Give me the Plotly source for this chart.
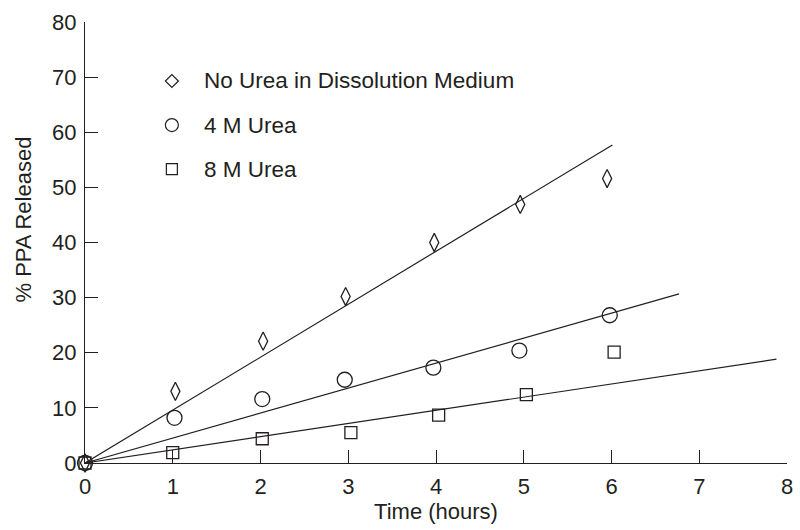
import plotly.graph_objects as go

# Release of PPA over time under three dissolution conditions
no_urea_x = [0, 1.03, 2.03, 2.97, 3.98, 4.96, 5.95]
no_urea_y = [0, 13.0, 22.1, 30.2, 40.0, 46.9, 51.6]
urea4_x = [0, 1.02, 2.02, 2.96, 3.97, 4.95, 5.98]
urea4_y = [0, 8.2, 11.6, 15.1, 17.3, 20.4, 26.8]
urea8_x = [0, 1.0, 2.02, 3.03, 4.03, 5.03, 6.03]
urea8_y = [0, 1.9, 4.4, 5.5, 8.7, 12.4, 20.1]

series_names = ["No Urea in Dissolution Medium", "4 M Urea", "8 M Urea"]
# zero-intercept linear fits: slope (% per hour) and the time where each line stops
fit_slopes = [9.6, 4.53, 2.39]
fit_end_times = [6.01, 6.77, 7.88]

x_ticks = [0, 1, 2, 3, 4, 5, 6, 7, 8]
y_ticks = [0, 10, 20, 30, 40, 50, 60, 70, 80]

INK = "#231f20"
FONT = "Liberation Sans, Arial, sans-serif"

fig = go.Figure()

for slope, t_end in zip(fit_slopes, fit_end_times):
    fig.add_trace(go.Scatter(
        x=[0, t_end], y=[0, slope * t_end], mode="lines",
        line=dict(color=INK, width=1.2), showlegend=False, hoverinfo="skip",
        cliponaxis=False))

marker_styles = [
    ("diamond-tall-open", 13),
    ("circle-open", 15),
    ("square-open", 12),
]
for (xs, ys), name, (sym, size) in zip(
        [(no_urea_x, no_urea_y), (urea4_x, urea4_y), (urea8_x, urea8_y)],
        series_names, marker_styles):
    fig.add_trace(go.Scatter(
        x=xs, y=ys, mode="markers", name=name, cliponaxis=False,
        marker=dict(symbol=sym, size=size, color=INK,
                    line=dict(color=INK, width=1.3)),
        showlegend=False))

# In-plot key: symbol plus label, stacked
legend_y = [69.3, 61.3, 53.3]
legend_symbols = ["diamond-open", "circle-open", "square-open"]
legend_sizes = [10, 13, 11]
for ly, name, sym, lsize in zip(legend_y, series_names, legend_symbols, legend_sizes):
    fig.add_trace(go.Scatter(
        x=[0.99], y=[ly], mode="markers", cliponaxis=False, showlegend=False,
        hoverinfo="skip",
        marker=dict(symbol=sym, size=lsize, color=INK,
                    line=dict(color=INK, width=1.2))))
    fig.add_annotation(x=1.33, y=ly, text=name, showarrow=False,
                       xanchor="left", yanchor="middle",
                       font=dict(size=22.5, color=INK, family=FONT))

# y-axis title, placed a little above the axis midpoint
fig.add_annotation(x=-0.089, y=0.551, xref="paper", yref="paper",
                   text="% PPA Released", textangle=-90, showarrow=False,
                   xanchor="center", yanchor="middle",
                   font=dict(size=22, color=INK, family=FONT))

axis_common = dict(
    showline=True, linecolor=INK, linewidth=1.2,
    ticks="inside", ticklen=13, tickwidth=1.2, tickcolor=INK,
    showgrid=False, zeroline=False,
    tickfont=dict(size=22, color=INK, family=FONT),
    title_font=dict(size=22, color=INK, family=FONT),
)

fig.update_layout(
    width=800, height=530,
    margin=dict(l=85, r=7, t=22, b=67),
    paper_bgcolor="white", plot_bgcolor="white",
    xaxis=dict(range=[0, 8], tickvals=x_ticks, title=dict(text="Time (hours)", standoff=6),
               ticklabelstandoff=3, **axis_common),
    yaxis=dict(range=[0, 80], tickvals=y_ticks, ticklabelstandoff=3, **axis_common),
    font=dict(family=FONT, color=INK),
)

fig.write_html("out.html")
